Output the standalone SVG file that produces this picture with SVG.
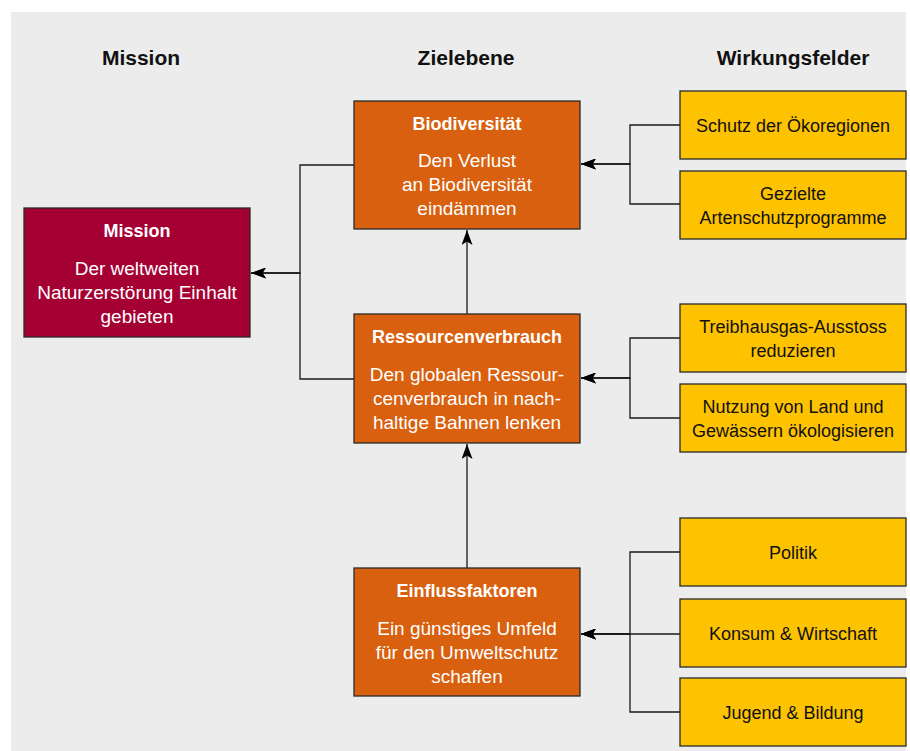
<svg xmlns="http://www.w3.org/2000/svg" width="910" height="751" viewBox="0 0 910 751">
<style>
text{font-family:"Liberation Sans",Arial,Helvetica,sans-serif;text-anchor:middle}
.h{font-size:21px;font-weight:bold;fill:#111}
.t{font-size:18px;font-weight:bold;fill:#fff}
.b{font-size:19px;fill:#fff}
.y{font-size:18px;fill:#111}
.box{stroke:#2a2a2a;stroke-width:1.3}
.mis{fill:#A50034}
.or{fill:#D8600E}
.ye{fill:#FDC200}
.c{fill:none;stroke:#1a1a1a;stroke-width:1.3}
</style>
<defs>
<marker id="ar" viewBox="0 0 15 11" refX="15" refY="5.5" markerWidth="15" markerHeight="11" markerUnits="userSpaceOnUse" orient="auto">
<path d="M15,5.5 L0,0 L3.5,5.5 L0,11 Z" fill="#000"/>
</marker>
</defs>
<rect x="0" y="0" width="910" height="751" fill="#fff"/>
<rect x="11" y="12" width="895" height="739" fill="#EBECEB"/>
<g id="headings">
<text class="h" x="141" y="65">Mission</text>
<text class="h" x="466" y="65">Zielebene</text>
<text class="h" x="793" y="65">Wirkungsfelder</text>
</g>
<g id="connectors">
<path class="c" d="M354,165 H300 V273 H251" marker-end="url(#ar)"/>
<path class="c" d="M354,379 H300 V273 H251" marker-end="url(#ar)"/>
<path class="c" d="M467,314 V230" marker-end="url(#ar)"/>
<path class="c" d="M467,568 V444" marker-end="url(#ar)"/>
<path class="c" d="M680,125 H630 V164 H581" marker-end="url(#ar)"/>
<path class="c" d="M680,204 H630 V164 H581" marker-end="url(#ar)"/>
<path class="c" d="M680,338 H630 V378 H581" marker-end="url(#ar)"/>
<path class="c" d="M680,418 H630 V378 H581" marker-end="url(#ar)"/>
<path class="c" d="M680,552 H630 V634 H581" marker-end="url(#ar)"/>
<path class="c" d="M680,634 H581" marker-end="url(#ar)"/>
<path class="c" d="M680,712 H630 V634 H581" marker-end="url(#ar)"/>
</g>
<g id="mission">
<rect class="box mis" x="24" y="208" width="226" height="129"/>
<text class="t" x="137" y="237">Mission</text>
<text class="b" x="137" y="275">Der weltweiten</text>
<text class="b" x="137" y="299">Naturzerstörung Einhalt</text>
<text class="b" x="137" y="323">gebieten</text>
</g>
<g id="biodiversitaet">
<rect class="box or" x="354" y="101" width="226" height="128"/>
<text class="t" x="467" y="130">Biodiversität</text>
<text class="b" x="467" y="167">Den Verlust</text>
<text class="b" x="467" y="191">an Biodiversität</text>
<text class="b" x="467" y="215">eindämmen</text>
</g>
<g id="ressourcenverbrauch">
<rect class="box or" x="354" y="314" width="226" height="129"/>
<text class="t" x="467" y="343">Ressourcenverbrauch</text>
<text class="b" x="467" y="381">Den globalen Ressour-</text>
<text class="b" x="467" y="405">cenverbrauch in nach-</text>
<text class="b" x="467" y="429">haltige Bahnen lenken</text>
</g>
<g id="einflussfaktoren">
<rect class="box or" x="354" y="568" width="226" height="128"/>
<text class="t" x="467" y="597">Einflussfaktoren</text>
<text class="b" x="467" y="635">Ein günstiges Umfeld</text>
<text class="b" x="467" y="659">für den Umweltschutz</text>
<text class="b" x="467" y="683">schaffen</text>
</g>
<g id="schutz">
<rect class="box ye" x="680" y="91" width="226" height="68"/>
<text class="y" x="793" y="131.5">Schutz der Ökoregionen</text>
</g>
<g id="artenschutz">
<rect class="box ye" x="680" y="171" width="226" height="68"/>
<text class="y" x="793" y="200">Gezielte</text>
<text class="y" x="793" y="224">Artenschutzprogramme</text>
</g>
<g id="treibhausgas">
<rect class="box ye" x="680" y="304" width="226" height="68"/>
<text class="y" x="793" y="333">Treibhausgas-Ausstoss</text>
<text class="y" x="793" y="357">reduzieren</text>
</g>
<g id="nutzung">
<rect class="box ye" x="680" y="384" width="226" height="68"/>
<text class="y" x="793" y="413">Nutzung von Land und</text>
<text class="y" x="793" y="437">Gewässern ökologisieren</text>
</g>
<g id="politik">
<rect class="box ye" x="680" y="518" width="226" height="68"/>
<text class="y" x="793" y="558.5">Politik</text>
</g>
<g id="konsum">
<rect class="box ye" x="680" y="599" width="226" height="68"/>
<text class="y" x="793" y="640">Konsum &amp; Wirtschaft</text>
</g>
<g id="jugend">
<rect class="box ye" x="680" y="678" width="226" height="68"/>
<text class="y" x="793" y="718.5">Jugend &amp; Bildung</text>
</g>
</svg>
